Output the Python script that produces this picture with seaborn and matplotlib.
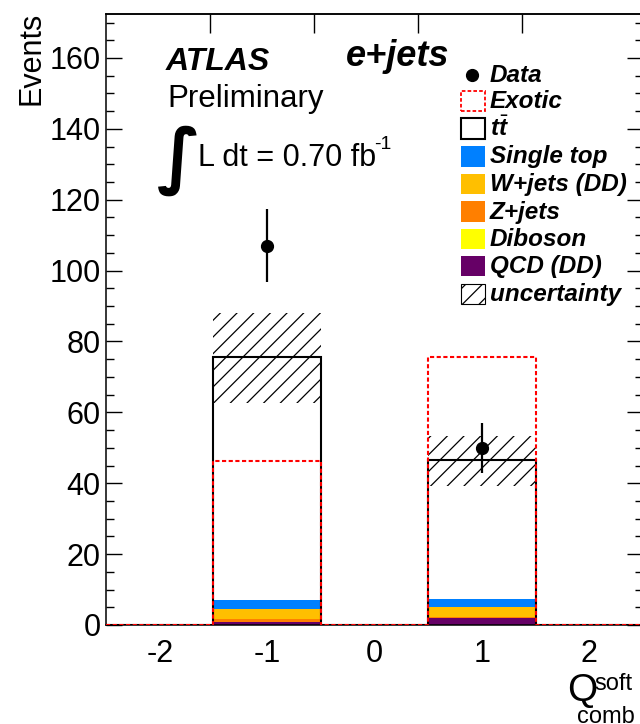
import numpy as np
import pandas as pd
import matplotlib
matplotlib.use("Agg")
import matplotlib.pyplot as plt
import seaborn as sns
from matplotlib.patches import Rectangle
from matplotlib.lines import Line2D
from matplotlib.ticker import MultipleLocator

# ---- histogram content (5 bins of the soft-muon combined charge) ----
bin_centers = [-2, -1, 0, 1, 2]
bin_edges = [-2.5, -1.5, -0.5, 0.5, 1.5, 2.5]

qcd = [0, 0.8, 0, 1.9, 0]
diboson = [0, 0.1, 0, 0.1, 0]
zjets = [0, 0.8, 0, 0.2, 0]
wjets = [0, 2.8, 0, 2.8, 0]
single_top = [0, 2.5, 0, 2.2, 0]
ttbar = [0, 68.5, 0, 39.3, 0]
exotic = [0, 46.2, 0, 75.5, 0]
data = [0, 107, 0, 50, 0]
unc_low = [0, 62.6, 0, 39.3, 0]
unc_high = [0, 88.0, 0, 53.3, 0]

TT = r"$t\bar{t}$"
proc_labels = ["QCD (DD)", "Diboson", "Z+jets", "W+jets (DD)", "Single top", TT]
proc_values = [qcd, diboson, zjets, wjets, single_top, ttbar]
proc_colors = ["#660066", "#FFFF00", "#FF7F00", "#FFBF00", "#0080FF", "#FFFFFF"]

sns.set_style("ticks")
plt.rcParams["font.family"] = ["Liberation Sans", "DejaVu Sans"]
plt.rcParams["mathtext.fontset"] = "custom"
plt.rcParams["mathtext.rm"] = "Liberation Sans"
plt.rcParams["mathtext.it"] = "Liberation Sans:italic:bold"
plt.rcParams["hatch.linewidth"] = 0.9
for key in ["text.color", "axes.labelcolor", "xtick.color", "ytick.color",
            "axes.edgecolor"]:
    plt.rcParams[key] = "black"

W, H = 640, 724
fig = plt.figure(figsize=(W / 100, H / 100), dpi=100)
ax = fig.add_axes([106 / W, 1 - 625 / H, 537 / W, 611 / H])

# stacked backgrounds (bottom to top: QCD ... ttbar)
rows = []
for lab, vals in zip(proc_labels, proc_values):
    for c, v in zip(bin_centers, vals):
        rows.append({"x": c, "w": v, "process": lab})
df = pd.DataFrame(rows)
sns.histplot(data=df, x="x", weights="w", hue="process",
             hue_order=proc_labels[::-1],
             palette=dict(zip(proc_labels, proc_colors)),
             bins=bin_edges, multiple="stack", element="bars",
             linewidth=0, alpha=1, legend=False, ax=ax, zorder=1)

total = np.sum(np.array(proc_values), axis=0)

# uncertainty band
lo = np.array(unc_low)
hi = np.array(unc_high)
ax.bar(bin_centers, hi - lo, bottom=lo, width=1.0, fill=False,
       hatch="//", edgecolor="black", linewidth=0, zorder=3)

# total prediction outline
ax.stairs(total, bin_edges, color="black", linewidth=1.5, baseline=0, zorder=4)

# exotic model
ax.stairs(exotic, bin_edges, color="red", linewidth=1.5,
          linestyle=(0, (2, 1.2)), baseline=0, zorder=5)

# data
d = np.array(data, dtype=float)
m = d > 0
ax.errorbar(np.array(bin_centers)[m], d[m], yerr=np.sqrt(d[m]), fmt="o",
            color="black", markersize=8.5, elinewidth=1.6, capsize=0, zorder=6)

ax.set_xlim(-2.5, 2.5)
ax.set_ylim(0, 172.4)
ax.set_xlabel("")
ax.set_ylabel("")
ax.set_xticks([-2, -1, 0, 1, 2])
ax.set_xticklabels(["-2", "-1", "0", "1", "2"])
ax.yaxis.set_major_locator(MultipleLocator(20))
ax.yaxis.set_minor_locator(MultipleLocator(5))
ax.tick_params(axis="y", which="major", direction="in", length=11.5, width=1.0,
               labelsize=22, pad=4, right=True, left=True)
ax.tick_params(axis="y", which="minor", direction="in", length=5.8, width=1.0,
               right=True, left=True)
ax.tick_params(axis="x", which="both", length=0, labelsize=22, pad=10)
for s in ax.spines.values():
    s.set_linewidth(1.1)
    s.set_color("black")

top = ax.secondary_xaxis("top")
top.set_xticks([-1.533, -0.565, 0.402, 1.37])
top.set_xticklabels([])
top.tick_params(direction="in", length=14, width=1.0)
top.spines["top"].set_linewidth(1.1)

def fx(px):
    return px / W

def fy(py):
    return 1 - py / H

# axis titles
fig.text(fx(31), fy(12), "Events", rotation=90, ha="center", va="top", fontsize=22)
fig.text(fx(567), fy(701), "Q", ha="left", va="baseline", fontsize=28)
fig.text(fx(594), fy(690), "soft", ha="left", va="baseline", fontsize=17)
fig.text(fx(577), fy(723), "comb", ha="left", va="baseline", fontsize=17)

# labels
fig.text(fx(166), fy(70), "ATLAS", fontsize=23, fontweight="bold", fontstyle="italic",
         ha="left", va="baseline")
fig.text(fx(346), fy(66), "e+jets", fontsize=26, fontweight="bold", fontstyle="italic",
         ha="left", va="baseline")
fig.text(fx(167), fy(107), "Preliminary", fontsize=22.5, ha="left", va="baseline")
fig.text(fx(157), fy(161), "\u222b", fontsize=52, fontweight="bold",
         family="DejaVu Sans", ha="left", va="center")
fig.text(fx(198), fy(166), "L dt = 0.70 fb", fontsize=22, ha="left", va="baseline")
fig.text(fx(374), fy(149), "-1", fontsize=14, ha="left", va="baseline")

# legend
leg_entries = ["Data", "Exotic", TT, "Single top", "W+jets (DD)",
               "Z+jets", "Diboson", "QCD (DD)", "uncertainty"]
row_y = [75, 101, 128.5, 156.5, 184, 211.5, 239, 266.5, 294]
box_x, box_w, box_h = 461, 24, 20
for lab, yc in zip(leg_entries, row_y):
    fig.text(fx(490), fy(yc + 7), lab, fontsize=17.5, fontweight="bold",
             fontstyle="italic", ha="left", va="baseline")
    x0, y0 = fx(box_x), fy(yc + box_h / 2)
    wf, hf = box_w / W, box_h / H
    if lab == "Data":
        fig.add_artist(Line2D([fx(472)], [fy(yc)], marker="o", markersize=8.5,
                              color="black", transform=fig.transFigure))
    elif lab == "Exotic":
        fig.add_artist(Rectangle((x0, y0), wf, hf, transform=fig.transFigure,
                                 facecolor="white", edgecolor="red", linewidth=1.3,
                                 linestyle=(0, (2, 1.2))))
    elif lab == "uncertainty":
        fig.add_artist(Rectangle((x0, y0), wf, hf, transform=fig.transFigure,
                                 facecolor="white", edgecolor="black", linewidth=0.8,
                                 hatch="//"))
    elif lab == TT:
        fig.add_artist(Rectangle((x0, y0), wf, hf, transform=fig.transFigure,
                                 facecolor="white", edgecolor="black", linewidth=1.5))
    else:
        i = proc_labels.index(lab)
        fig.add_artist(Rectangle((x0, y0), wf, hf, transform=fig.transFigure,
                                 facecolor=proc_colors[i], edgecolor="none"))

fig.savefig("out.png", dpi=100)
